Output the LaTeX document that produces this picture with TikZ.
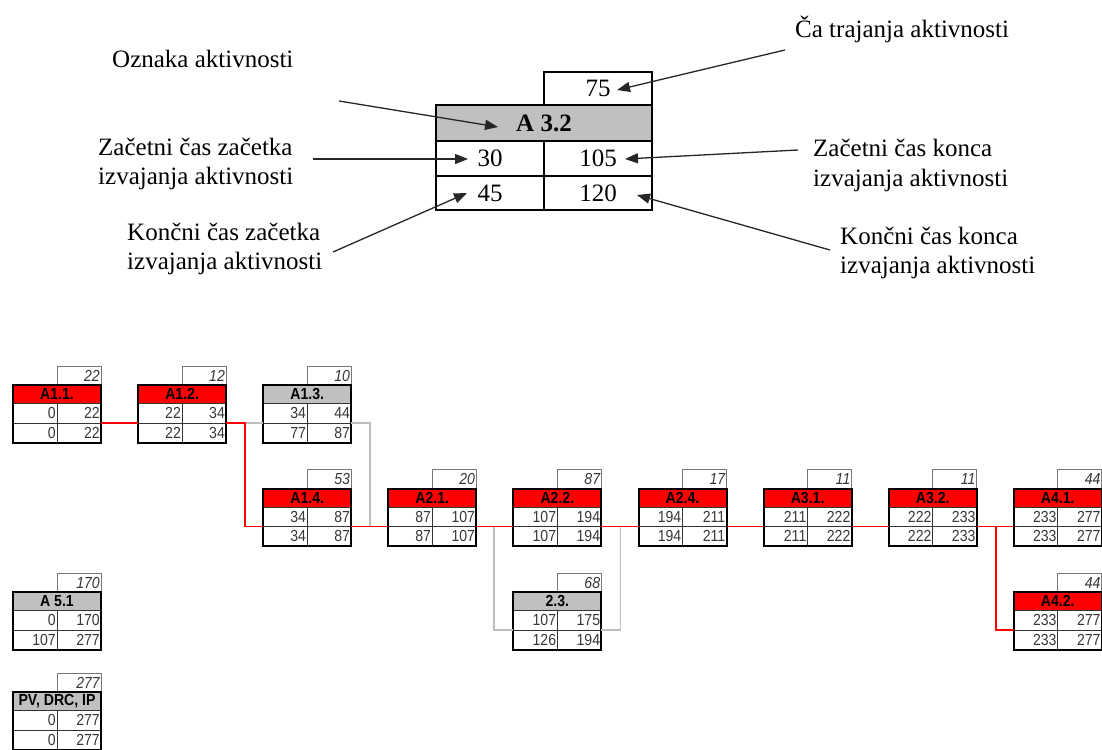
\documentclass[tikz,border=0pt]{standalone}
\usepackage{fontspec}
\setmainfont{Liberation Serif}
\newfontfamily\netfont{Liberation Sans}[FakeStretch=0.88]
\usetikzlibrary{arrows.meta,calc}
\definecolor{hred}{RGB}{255,0,0}
\definecolor{hgrey}{RGB}{192,192,192}
\definecolor{lgrey}{RGB}{190,190,190}
\definecolor{numc}{RGB}{55,55,55}
\definecolor{durc}{RGB}{120,120,120}

\tikzset{
  numcell/.style={draw=black!80, line width=0.8pt, fill=white, minimum width=44pt,
    minimum height=19.5pt, inner sep=0pt, outer sep=0pt, text width=41.5pt, align=right,
    font=\netfont\fontsize{16}{16}\selectfont, text=numc},
  headcell/.style={draw=black!80, line width=0.8pt, minimum width=88pt, minimum height=18.5pt,
    inner sep=0pt, outer sep=0pt, font=\netfont\bfseries\fontsize{16}{16}\selectfont, text=black},
  durcell/.style={draw=durc, line width=1pt, fill=white, minimum width=44pt, minimum height=19pt,
    inner sep=0pt, outer sep=0pt, text width=41.5pt, align=right,
    font=\netfont\itshape\fontsize{16}{16}\selectfont, text=numc},
  frame/.style={draw=black, line width=2pt},
  rline/.style={draw=hred, line width=1.8pt},
  gline/.style={draw=lgrey, line width=1.8pt},
  lgcell/.style={draw=black, line width=2.5pt, inner sep=0pt, outer sep=0pt, fill=white,
    font=\fontsize{25}{29}\selectfont},
  lgtext/.style={anchor=base west, inner sep=0pt, font=\fontsize{25}{29}\selectfont},
  lgarrow/.style={draw=black!85, line width=1.3pt, -{Triangle[length=13pt,width=10pt]}},
}

\newcommand{\actbox}[9]{%
  \def\actname{#1}\def\actx{#2}\def\acty{#3}%
  \node[durcell, anchor=north west] (#1-t) at (#2+44,#3-19) {#6};
  \node[headcell, fill=#4, anchor=north west] (#1-h) at (#2,#3) {#5};
  \node[numcell, anchor=north west] (#1-a) at (#2,#3+18.5) {#7};
  \node[numcell, anchor=north west] (#1-b) at (#2+44,#3+18.5) {#8};
  \node[numcell, anchor=north west] (#1-c) at (#2,#3+38) {#9};
  \actlf}
\newcommand{\actlf}[1]{%
  \node[numcell, anchor=north west] (\actname-e) at (\actx+44,\acty+38) {#1};
  \draw[frame] (\actname-h.north west) rectangle (\actname-e.south east);}

\begin{document}
\begin{tikzpicture}[x=1pt,y=-1pt]
\useasboundingbox (0,0) rectangle (1102,749);

% ---------- legend ----------
\node[lgcell, anchor=north west, minimum width=108pt, minimum height=33pt] (lgt) at (544,72) {75};
\node[lgcell, anchor=north west, minimum width=216pt, minimum height=36pt, fill=hgrey, font=\fontsize{25}{29}\selectfont\bfseries] (lgh) at (436,105) {A 3.2};
\node[lgcell, anchor=north west, minimum width=108pt, minimum height=35pt] (lga) at (436,141) {30};
\node[lgcell, anchor=north west, minimum width=108pt, minimum height=35pt] (lgb) at (544,141) {105};
\node[lgcell, anchor=north west, minimum width=108pt, minimum height=34pt] (lgc) at (436,176) {45};
\node[lgcell, anchor=north west, minimum width=108pt, minimum height=34pt] (lgd) at (544,176) {120};
\draw[black, line width=2.5pt] (lgh.north west) rectangle (lgd.south east);
\draw[black, line width=2.5pt] (lgt.north west) rectangle (lgt.south east);

\node[lgtext] (l1) at (112,68) {Oznaka aktivnosti};
\node[lgtext] (l2) at (795,38) {Ča trajanja aktivnosti};
\node[lgtext] (l3a) at (98,155) {Začetni čas začetka};
\node[lgtext] (l3b) at (98,184) {izvajanja aktivnosti};
\node[lgtext] (l4a) at (127,240) {Končni čas začetka};
\node[lgtext] (l4b) at (127,269) {izvajanja aktivnosti};
\node[lgtext] (l5a) at (813,157) {Začetni čas konca};
\node[lgtext] (l5b) at (813,186) {izvajanja aktivnosti};
\node[lgtext] (l6a) at (840,244) {Končni čas konca};
\node[lgtext] (l6b) at (840,273) {izvajanja aktivnosti};

\coordinate (s1) at (339,101);
\coordinate (s2) at (785,50);
\coordinate (s3) at (313,159);
\coordinate (s4) at (333,252);
\coordinate (s5) at (798,150);
\coordinate (s6) at (830,250);
\draw[lgarrow] (s1) -- ($(lgh.center)+(-46,4)$);
\draw[lgarrow] (s2) -- ($(lgt.center)+(19,1.5)$);
\draw[lgarrow] (s3) -- ($(lga.center)+(-22,0.5)$);
\draw[lgarrow] (s4) -- ($(lgc.center)+(-23,0)$);
\draw[lgarrow] (s5) -- ($(lgb.center)+(27,0.5)$);
\draw[lgarrow] (s6) -- ($(lgd.center)+(39,2)$);

% ---------- network ----------
\actbox{a11}{13}{385}{hred}{A1.1.}{22}{0}{22}{0}{22}
\actbox{a12}{138.1}{385}{hred}{A1.2.}{12}{22}{34}{22}{34}
\actbox{a13}{263.2}{385}{hgrey}{A1.3.}{10}{34}{44}{77}{87}
\actbox{a14}{263.2}{488.5}{hred}{A1.4.}{53}{34}{87}{34}{87}
\actbox{a21}{388.3}{488.5}{hred}{A2.1.}{20}{87}{107}{87}{107}
\actbox{a22}{513.4}{488.5}{hred}{A2.2.}{87}{107}{194}{107}{194}
\actbox{a23}{513.4}{592}{hgrey}{2.3.}{68}{107}{175}{126}{194}
\actbox{a24}{638.5}{488.5}{hred}{A2.4.}{17}{194}{211}{194}{211}
\actbox{a31}{763.6}{488.5}{hred}{A3.1.}{11}{211}{222}{211}{222}
\actbox{a32}{888.7}{488.5}{hred}{A3.2.}{11}{222}{233}{222}{233}
\actbox{a41}{1013.8}{488.5}{hred}{A4.1.}{44}{233}{277}{233}{277}
\actbox{a42}{1013.8}{592}{hred}{A4.2.}{44}{233}{277}{233}{277}
\actbox{a51}{13}{592}{hgrey}{A 5.1}{170}{0}{170}{107}{277}
\actbox{pv}{13}{692}{hgrey}{PV, DRC, IP}{277}{0}{277}{0}{277}

% grey (non-critical) connectors
\draw[gline] (a12-b.south east) -- (a13-a.south west);
\draw[gline] (a13-b.south east) -- ++(19,0) |- (a21-a.south west);
\draw[gline] (a21-b.south east) -- ++(18,0) |- (a23-a.south west);
\draw[gline] (a23-b.south east) -- ++(19,0) |- (a24-a.south west);
% red (critical) connectors
\draw[rline] (a11-b.south east) -- (a12-a.south west);
\draw[rline] (a12-b.south east) -- ++(19,0) |- (a14-a.south west);
\draw[rline] (a14-b.south east) -- (a21-a.south west);
\draw[rline] (a21-b.south east) -- (a22-a.south west);
\draw[rline] (a22-b.south east) -- (a24-a.south west);
\draw[rline] (a24-b.south east) -- (a31-a.south west);
\draw[rline] (a31-b.south east) -- (a32-a.south west);
\draw[rline] (a32-b.south east) -- (a41-a.south west);
\draw[rline] (a32-b.south east) -- ++(19,0) |- (a42-a.south west);
\end{tikzpicture}
\end{document}
